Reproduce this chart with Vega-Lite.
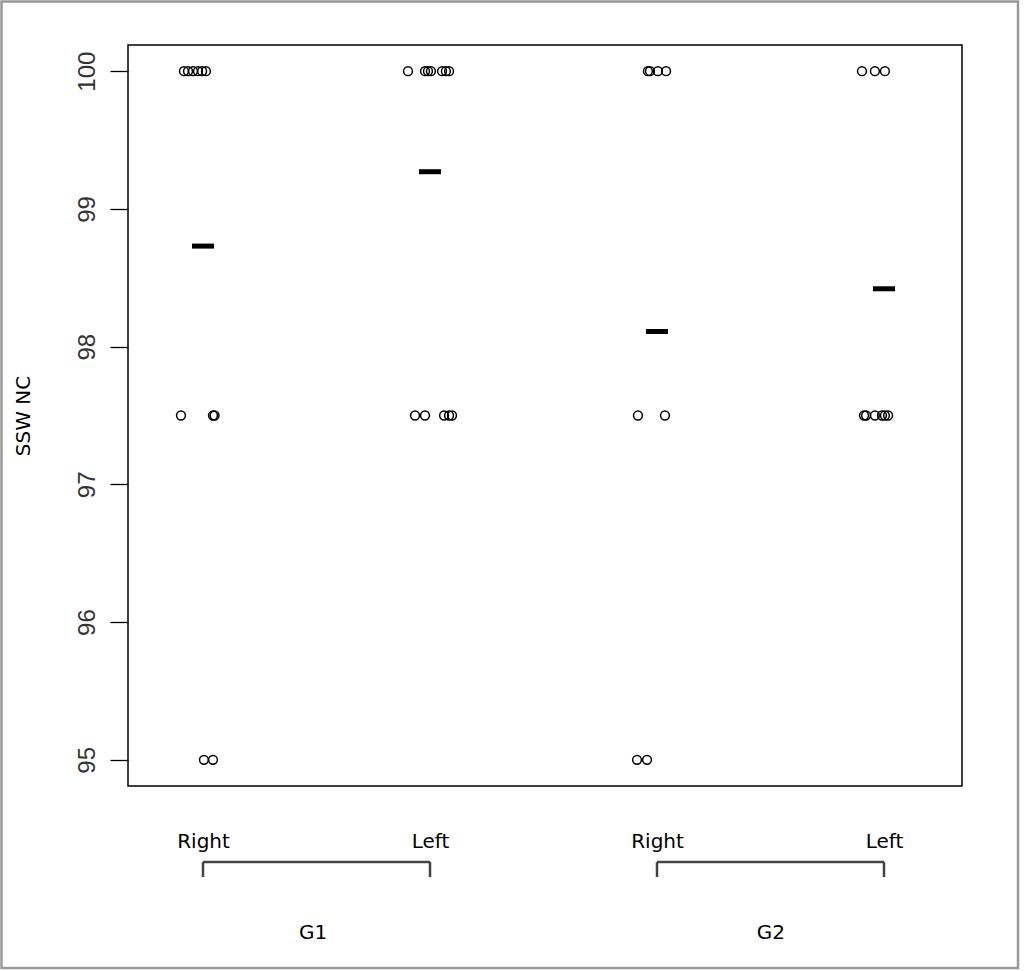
{
  "$schema": "https://vega.github.io/schema/vega-lite/v6.json",
  "width": 834,
  "height": 741,
  "autosize": {"type": "none"},
  "padding": {"left": 128, "top": 45, "right": 62, "bottom": 185},
  "background": "white",
  "config": {
    "view": {"stroke": "black", "strokeWidth": 1.5},
    "font": "DejaVu Sans"
  },
  "datasets": {
    "points": [
      {"grp": "G1", "side": "Right", "pos": 0.916, "score": 100},
      {"grp": "G1", "side": "Right", "pos": 0.934, "score": 100},
      {"grp": "G1", "side": "Right", "pos": 0.956, "score": 100},
      {"grp": "G1", "side": "Right", "pos": 0.978, "score": 100},
      {"grp": "G1", "side": "Right", "pos": 0.996, "score": 100},
      {"grp": "G1", "side": "Right", "pos": 1.013, "score": 100},
      {"grp": "G1", "side": "Right", "pos": 0.903, "score": 97.5},
      {"grp": "G1", "side": "Right", "pos": 1.044, "score": 97.5},
      {"grp": "G1", "side": "Right", "pos": 1.051, "score": 97.5},
      {"grp": "G1", "side": "Right", "pos": 1.004, "score": 95},
      {"grp": "G1", "side": "Right", "pos": 1.044, "score": 95},
      {"grp": "G1", "side": "Left", "pos": 1.903, "score": 100},
      {"grp": "G1", "side": "Left", "pos": 1.978, "score": 100},
      {"grp": "G1", "side": "Left", "pos": 1.991, "score": 100},
      {"grp": "G1", "side": "Left", "pos": 2.004, "score": 100},
      {"grp": "G1", "side": "Left", "pos": 2.053, "score": 100},
      {"grp": "G1", "side": "Left", "pos": 2.070, "score": 100},
      {"grp": "G1", "side": "Left", "pos": 2.084, "score": 100},
      {"grp": "G1", "side": "Left", "pos": 1.934, "score": 97.5},
      {"grp": "G1", "side": "Left", "pos": 1.978, "score": 97.5},
      {"grp": "G1", "side": "Left", "pos": 2.062, "score": 97.5},
      {"grp": "G1", "side": "Left", "pos": 2.084, "score": 97.5},
      {"grp": "G1", "side": "Left", "pos": 2.097, "score": 97.5},
      {"grp": "G2", "side": "Right", "pos": 2.960, "score": 100},
      {"grp": "G2", "side": "Right", "pos": 2.969, "score": 100},
      {"grp": "G2", "side": "Right", "pos": 3.004, "score": 100},
      {"grp": "G2", "side": "Right", "pos": 3.040, "score": 100},
      {"grp": "G2", "side": "Right", "pos": 2.916, "score": 97.5},
      {"grp": "G2", "side": "Right", "pos": 3.035, "score": 97.5},
      {"grp": "G2", "side": "Right", "pos": 2.912, "score": 95},
      {"grp": "G2", "side": "Right", "pos": 2.956, "score": 95},
      {"grp": "G2", "side": "Left", "pos": 3.903, "score": 100},
      {"grp": "G2", "side": "Left", "pos": 3.960, "score": 100},
      {"grp": "G2", "side": "Left", "pos": 4.004, "score": 100},
      {"grp": "G2", "side": "Left", "pos": 3.912, "score": 97.5},
      {"grp": "G2", "side": "Left", "pos": 3.921, "score": 97.5},
      {"grp": "G2", "side": "Left", "pos": 3.960, "score": 97.5},
      {"grp": "G2", "side": "Left", "pos": 3.991, "score": 97.5},
      {"grp": "G2", "side": "Left", "pos": 4.004, "score": 97.5},
      {"grp": "G2", "side": "Left", "pos": 4.018, "score": 97.5}
    ],
    "means": [
      {"grp": "G1", "side": "Right", "pos": 1, "mean": 98.73},
      {"grp": "G1", "side": "Left", "pos": 2, "mean": 99.27},
      {"grp": "G2", "side": "Right", "pos": 3, "mean": 98.11},
      {"grp": "G2", "side": "Left", "pos": 4, "mean": 98.42}
    ],
    "groups": [
      {"grp": "G1", "first": 1, "last": 2, "mid": 1.485},
      {"grp": "G2", "first": 3, "last": 4, "mid": 3.502}
    ]
  },
  "layer": [
    {
      "data": {"name": "points"},
      "mark": {"type": "point", "shape": "circle", "filled": false, "stroke": "black", "strokeWidth": 1.5, "size": 78, "opacity": 1},
      "encoding": {
        "x": {
          "field": "pos", "type": "quantitative",
          "scale": {"domain": [0.6696, 4.3436], "nice": false, "zero": false},
          "axis": {
            "values": [1, 2, 3, 4],
            "labelExpr": "datum.value == 1 || datum.value == 3 ? 'Right' : 'Left'",
            "domain": false, "ticks": false, "grid": false,
            "labelFont": "DejaVu Sans", "labelFontSize": 20, "labelColor": "black",
            "labelPadding": 45, "title": null
          }
        },
        "y": {
          "field": "score", "type": "quantitative",
          "scale": {"domain": [94.81, 100.19], "nice": false, "zero": false},
          "axis": {
            "values": [95, 96, 97, 98, 99, 100],
            "format": "d",
            "domain": false, "grid": false,
            "tickSize": 18, "tickColor": "black", "tickWidth": 1.3,
            "labelAngle": -90, "labelAlign": "center", "labelBaseline": "bottom",
            "labelFont": "Liberation Sans", "labelFontSize": 24, "labelColor": "#333",
            "labelPadding": 11,
            "title": "SSW NC", "titleFont": "DejaVu Sans", "titleFontSize": 20,
            "titleFontWeight": "normal", "titleColor": "black", "titlePadding": 42
          }
        }
      }
    },
    {
      "data": {"name": "means"},
      "mark": {"type": "tick", "orient": "horizontal", "size": 22, "thickness": 5, "color": "black", "opacity": 1},
      "encoding": {
        "x": {"field": "pos", "type": "quantitative"},
        "y": {"field": "mean", "type": "quantitative"}
      }
    },
    {
      "data": {"name": "groups"},
      "mark": {"type": "rule", "color": "#444", "strokeWidth": 2.5},
      "encoding": {
        "x": {"field": "first", "type": "quantitative"},
        "x2": {"field": "last"},
        "y": {"datum": 94.258}
      }
    },
    {
      "data": {"name": "groups"},
      "mark": {"type": "rule", "color": "#444", "strokeWidth": 2.5},
      "encoding": {
        "x": {"field": "first", "type": "quantitative"},
        "y": {"datum": 94.258},
        "y2": {"datum": 94.149}
      }
    },
    {
      "data": {"name": "groups"},
      "mark": {"type": "rule", "color": "#444", "strokeWidth": 2.5},
      "encoding": {
        "x": {"field": "last", "type": "quantitative"},
        "y": {"datum": 94.258},
        "y2": {"datum": 94.149}
      }
    },
    {
      "data": {"name": "groups"},
      "mark": {"type": "text", "font": "DejaVu Sans", "fontSize": 20, "color": "black", "baseline": "middle", "align": "center"},
      "encoding": {
        "x": {"field": "mid", "type": "quantitative"},
        "y": {"datum": 93.745},
        "text": {"field": "grp"}
      }
    },
    {
      "data": {"values": [{"frame": "border"}]},
      "mark": {"type": "rect", "fill": null, "fillOpacity": 0, "stroke": "#999", "strokeWidth": 2.5},
      "encoding": {
        "x": {"datum": 0.1123},
        "x2": {"datum": 4.5903},
        "y": {"datum": 100.506},
        "y2": {"datum": 93.4885}
      }
    }
  ]
}
